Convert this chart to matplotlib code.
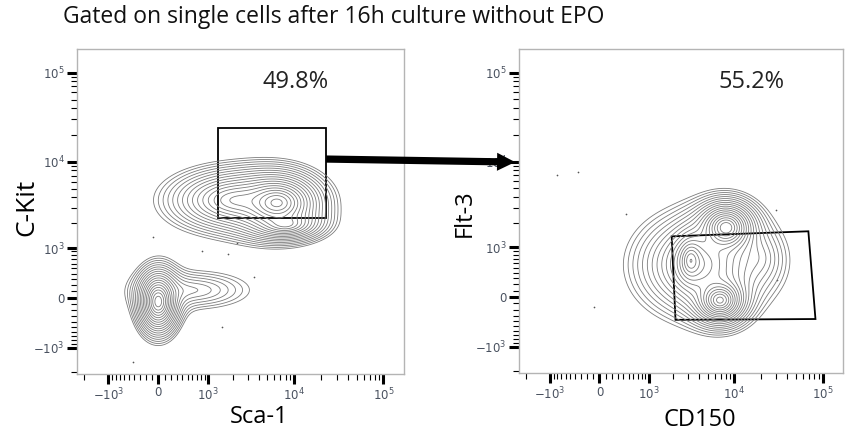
import numpy as np
import matplotlib
matplotlib.use('Agg')
import matplotlib.pyplot as plt
from matplotlib.patches import Polygon, Rectangle, ConnectionPatch, ArrowStyle

# biexponential-like display: asinh with this linear width
LIN_W = 600.0

# ---- data ----
# populations: center (x, y) in channel values, spread in display units, relative weight
left_cx = [6450, 2100, 8100, 0, 600]
left_cy = [3450, 3700, 1950, -60, 120]
left_su = [0.29, 0.50, 0.28, 0.14, 0.66]
left_sv = [0.20, 0.24, 0.12, 0.22, 0.22]
left_wt = [1.0, 0.35, 0.30, 0.9, 0.055]

right_cx = [8100, 6900, 3200, 4200, 20000]
right_cy = [1760, -50, 660, 560, 700]
right_su = [0.20, 0.18, 0.12, 0.50, 0.30]
right_sv = [0.18, 0.16, 0.20, 0.40, 0.35]
right_wt = [0.9, 1.0, 0.5, 0.3, 0.03]

# outlier events
left_out_x = [-78, 830, 1780, 2270, 3550, 1500, -410]
left_out_y = [1380, 920, 830, 1150, 340, -490, -1520]
right_out_x = [-820, -360, 455, -78, 29800, 30500]
right_out_y = [7100, 7700, 2570, -157, 2840, 273]

# gates
left_gate_x = [1350, 22800]
left_gate_y = [2320, 24000]
right_gate_x = [1920, 69000, 83000, 2130]
right_gate_y = [1380, 1590, -360, -375]

left_pct = '49.8%'
right_pct = '55.2%'

tick_vals = [-1e3, 0, 1e3, 1e4, 1e5]
tick_labels = ['$-10^3$', '0', '$10^3$', '$10^4$', '$10^5$']

XLIM = (-2400, 170000)
YLIM = (-2100, 184000)

FONT = 'Open Sans'


def fwd(v):
    return np.arcsinh(np.asarray(v, dtype=float) / LIN_W)


def inv(u):
    return LIN_W * np.sinh(np.asarray(u, dtype=float))


def density(cx, cy, su, sv, wt, n=360):
    # smooth-peaked kernels with exponential tails
    u = np.linspace(fwd(XLIM[0]), fwd(XLIM[1]), n)
    v = np.linspace(fwd(YLIM[0]), fwd(YLIM[1]), n)
    U, V = np.meshgrid(u, v)
    Z = np.zeros_like(U)
    for x0, y0, a, b, w in zip(cx, cy, su, sv, wt):
        r2 = ((U - fwd(x0)) / a) ** 2 + ((V - fwd(y0)) / b) ** 2
        Z += w * np.exp(1 - np.sqrt(1 + r2))
    return U, V, Z


def style_axis(ax):
    ax.set_xscale('function', functions=(fwd, inv))
    ax.set_yscale('function', functions=(fwd, inv))
    ax.set_xlim(XLIM)
    ax.set_ylim(YLIM)
    minor = ([-2000] + [k * 100 for k in range(-9, 10) if k != 0]
             + [k * 1000 for k in range(2, 10)] + [k * 10000 for k in range(2, 10)])
    for axis in (ax.xaxis, ax.yaxis):
        axis.set_ticks(tick_vals)
        axis.set_ticklabels(tick_labels)
        axis.set_ticks(minor, minor=True)
    ax.tick_params(which='major', length=7, width=2.2, color='black',
                   labelsize=8.5, labelcolor='#4a5260', pad=2)
    ax.tick_params(which='minor', length=4, width=0.8, color='black')
    for sp in ax.spines.values():
        sp.set_color('#b4b4b4')
        sp.set_linewidth(1.0)


fig = plt.figure(figsize=(8.46, 4.32), dpi=100)
ax1 = fig.add_axes([77 / 846, 1 - 374 / 432, 327 / 846, 325 / 432])
ax2 = fig.add_axes([519 / 846, 1 - 373 / 432, 324 / 846, 324 / 432])

for ax, cx, cy, su, sv, wt in [(ax1, left_cx, left_cy, left_su, left_sv, left_wt),
                               (ax2, right_cx, right_cy, right_su, right_sv, right_wt)]:
    style_axis(ax)
    U, V, Z = density(cx, cy, su, sv, wt)
    levels = np.geomspace(0.012, 0.9, 19) * Z.max()
    ax.contour(inv(U), inv(V), Z, levels=levels, colors='#7c7c7c', linewidths=0.6)

ax1.scatter(left_out_x, left_out_y, s=1.5, color='#555555', lw=0)
ax2.scatter(right_out_x, right_out_y, s=1.5, color='#555555', lw=0)

# gates
ax1.add_patch(Rectangle((left_gate_x[0], left_gate_y[0]),
                        left_gate_x[1] - left_gate_x[0], left_gate_y[1] - left_gate_y[0],
                        fill=False, ec='black', lw=1.3))
ax2.add_patch(Polygon(list(zip(right_gate_x, right_gate_y)), closed=True,
                      fill=False, ec='black', lw=1.3))

ax1.text(0.667, 0.898, left_pct, transform=ax1.transAxes, ha='center', va='center',
         fontsize=17, family=FONT, color='#222222')
ax2.text(0.719, 0.898, right_pct, transform=ax2.transAxes, ha='center', va='center',
         fontsize=17, family=FONT, color='#222222')

ax1.set_xlabel('Sca-1', fontsize=17, family=FONT, va='center')
ax1.xaxis.set_label_coords(0.557, -0.132)
ax1.set_ylabel('C-Kit', fontsize=19, family=FONT, va='center')
ax1.yaxis.set_label_coords(-0.153, 0.514)
ax2.set_xlabel('CD150', fontsize=17, family=FONT, va='center')
ax2.xaxis.set_label_coords(0.559, -0.145)
ax2.set_ylabel('Flt-3', fontsize=17, family=FONT, va='center')
ax2.yaxis.set_label_coords(-0.167, 0.494)

# arrow from the gate into the second plot
arrow = ConnectionPatch(xyA=(left_gate_x[1], 10750), coordsA=ax1.transData,
                        xyB=(-0.012, 0.651), coordsB=ax2.transAxes,
                        arrowstyle=ArrowStyle('simple', head_length=0.65, head_width=0.65,
                                              tail_width=0.26),
                        mutation_scale=20, fc='black', ec='black', lw=0,
                        shrinkA=0, shrinkB=0)
fig.add_artist(arrow)

fig.text(63 / 846, 1 - 17 / 432, 'Gated on single cells after 16h culture without EPO',
         ha='left', va='center', fontsize=16.5, family=FONT, color='#111111')

fig.savefig('out.png', dpi=100)
